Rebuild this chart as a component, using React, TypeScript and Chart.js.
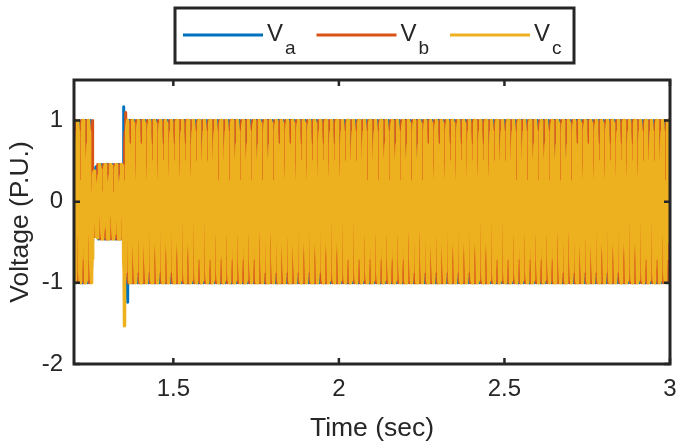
import React, { useEffect, useRef } from 'react';
import { Chart, registerables } from 'chart.js';

Chart.register(...registerables);

// ---- data ----
const seriesNames = ['Va', 'Vb', 'Vc'];
const seriesSubscripts = ['a', 'b', 'c'];
const seriesColors = ['#0072BD', '#D95319', '#EDB120'];
const phaseShiftDeg = [0, -120, 120];
const gridFrequencyHz = 60; // from the striation spacing (~5.5 px per cycle)
const timeStart = 1.2;
const timeEnd = 3.0;
// piecewise-constant amplitude envelope (P.U.), held from each time onward
const envelopeTimes = [1.2, 1.2556, 1.262, 1.27, 1.3495];
const envelopeAmps = [1.0, 0.38, 0.43, 0.46, 1.0];
// transient spikes at fault clearing
const transientTimesVa = [1.3505, 1.363];
const transientValuesVa = [1.17, -1.24];
const transientTimesVb = [1.357];
const transientValuesVb = [1.1];
const transientTimesVc = [1.352];
const transientValuesVc = [-1.53];
const xTickValues = [1.5, 2, 2.5, 3];
const yTickValues = [-2, -1, 0, 1];
const xLabel = 'Time (sec)';
const yLabel = 'Voltage (P.U.)';

const samplesPerCycle = 24;
const FONT = '"Liberation Sans", Arial, Helvetica, sans-serif';
const INK = '#262626';

function amplitudeAt(t: number): number {
  let a = envelopeAmps[0];
  for (let i = 0; i < envelopeTimes.length; i++) {
    if (t >= envelopeTimes[i]) a = envelopeAmps[i];
  }
  return a;
}

function buildSeries(k: number, tt: number[], tv: number[]) {
  const n = Math.round((timeEnd - timeStart) * gridFrequencyHz * samplesPerCycle);
  const pts: { x: number; y: number }[] = [];
  const ph = (phaseShiftDeg[k] * Math.PI) / 180;
  for (let i = 0; i <= n; i++) {
    const t = timeStart + ((timeEnd - timeStart) * i) / n;
    pts.push({ x: t, y: amplitudeAt(t) * Math.cos(2 * Math.PI * gridFrequencyHz * (t - timeStart) + ph) });
  }
  tt.forEach((t, j) => pts.push({ x: t, y: tv[j] }));
  pts.sort((a, b) => a.x - b.x);
  return pts;
}

const framePlugin = {
  id: 'frame',
  afterDatasetsDraw(chart: any) {
    const { ctx, chartArea, scales } = chart;
    const { left, top, right, bottom } = chartArea;
    ctx.save();
    ctx.strokeStyle = INK;
    ctx.lineWidth = 2.5;
    const tl = 6;
    ctx.beginPath();
    xTickValues.forEach((v) => {
      const px = scales.x.getPixelForValue(v);
      ctx.moveTo(px, bottom);
      ctx.lineTo(px, bottom - tl);
      ctx.moveTo(px, top);
      ctx.lineTo(px, top + tl);
    });
    yTickValues.forEach((v) => {
      const py = scales.y.getPixelForValue(v);
      ctx.moveTo(left, py);
      ctx.lineTo(left + tl, py);
      ctx.moveTo(right, py);
      ctx.lineTo(right - tl, py);
    });
    ctx.stroke();
    ctx.lineWidth = 3;
    ctx.strokeRect(left, top, right - left, bottom - top);
    ctx.restore();
  },
};

const legendPlugin = {
  id: 'customLegend',
  afterDraw(chart: any) {
    const { ctx } = chart;
    ctx.save();
    ctx.fillStyle = '#ffffff';
    ctx.fillRect(175, 8, 399, 55);
    ctx.strokeStyle = INK;
    ctx.lineWidth = 3;
    ctx.strokeRect(175, 8, 399, 55);
    const itemX = [183, 316.5, 450];
    seriesNames.forEach((_, i) => {
      const x0 = itemX[i];
      ctx.strokeStyle = seriesColors[i];
      ctx.lineWidth = 3;
      ctx.beginPath();
      ctx.moveTo(x0, 35);
      ctx.lineTo(x0 + 80, 35);
      ctx.stroke();
      ctx.fillStyle = INK;
      ctx.textBaseline = 'alphabetic';
      ctx.textAlign = 'left';
      ctx.font = `24px ${FONT}`;
      ctx.fillText('V', x0 + 84, 41);
      const w = ctx.measureText('V').width;
      ctx.font = `19px ${FONT}`;
      ctx.fillText(seriesSubscripts[i], x0 + 86 + w, 54);
    });
    ctx.restore();
  },
};

export default function App() {
  const ref = useRef<HTMLCanvasElement | null>(null);
  useEffect(() => {
    if (!ref.current) return;
    const transientsT = [transientTimesVa, transientTimesVb, transientTimesVc];
    const transientsV = [transientValuesVa, transientValuesVb, transientValuesVc];
    const datasets = seriesNames.map((name, k) => ({
      label: name,
      data: buildSeries(k, transientsT[k], transientsV[k]),
      borderColor: seriesColors[k],
      backgroundColor: seriesColors[k],
      borderWidth: k === 2 ? 3.5 : 3,
      borderJoinStyle: 'round' as const,
      borderCapStyle: 'round' as const,
      pointRadius: 0,
      fill: false,
      tension: 0,
      order: 3 - k,
    }));
    const chart = new Chart(ref.current, {
      type: 'line',
      data: { datasets },
      options: {
        animation: false,
        responsive: true,
        maintainAspectRatio: false,
        devicePixelRatio: 1,
        parsing: false,
        normalized: true,
        events: [],
        layout: { padding: { top: 80, right: 9, left: 0, bottom: 0 } },
        plugins: { legend: { display: false }, tooltip: { enabled: false } },
        scales: {
          x: {
            type: 'linear',
            min: timeStart,
            max: timeEnd,
            grid: { display: false, drawTicks: false },
            border: { display: false },
            afterBuildTicks: (s: any) => {
              s.ticks = xTickValues.map((v) => ({ value: v }));
            },
            afterFit: (s: any) => {
              s.height = 83;
              s.paddingLeft = 0;
              s.paddingRight = 0;
            },
            ticks: {
              color: INK,
              font: { family: FONT, size: 24 },
              padding: 11,
              maxRotation: 0,
              autoSkip: false,
              callback: (v: any) => String(v),
            },
            title: {
              display: true,
              text: xLabel,
              color: INK,
              font: { family: FONT, size: 26.5 },
              padding: { top: 0, bottom: 2 },
            },
          },
          y: {
            type: 'linear',
            min: -2,
            max: 1.5,
            grid: { display: false, drawTicks: false },
            border: { display: false },
            afterBuildTicks: (s: any) => {
              s.ticks = yTickValues.map((v) => ({ value: v }));
            },
            afterFit: (s: any) => {
              s.width = 74;
              s.paddingTop = 0;
              s.paddingBottom = 0;
            },
            ticks: {
              color: INK,
              font: { family: FONT, size: 24 },
              padding: 11,
              autoSkip: false,
              callback: (v: any) => String(v),
            },
            title: {
              display: true,
              text: yLabel,
              color: INK,
              font: { family: FONT, size: 26.5 },
              padding: { top: 5, bottom: 0 },
            },
          },
        },
      },
      plugins: [framePlugin, legendPlugin],
    });
    return () => chart.destroy();
  }, []);
  return (
    <div style={{ position: 'fixed', left: 0, top: 0, width: 679, height: 447, background: '#fff' }}>
      <canvas ref={ref} />
    </div>
  );
}
